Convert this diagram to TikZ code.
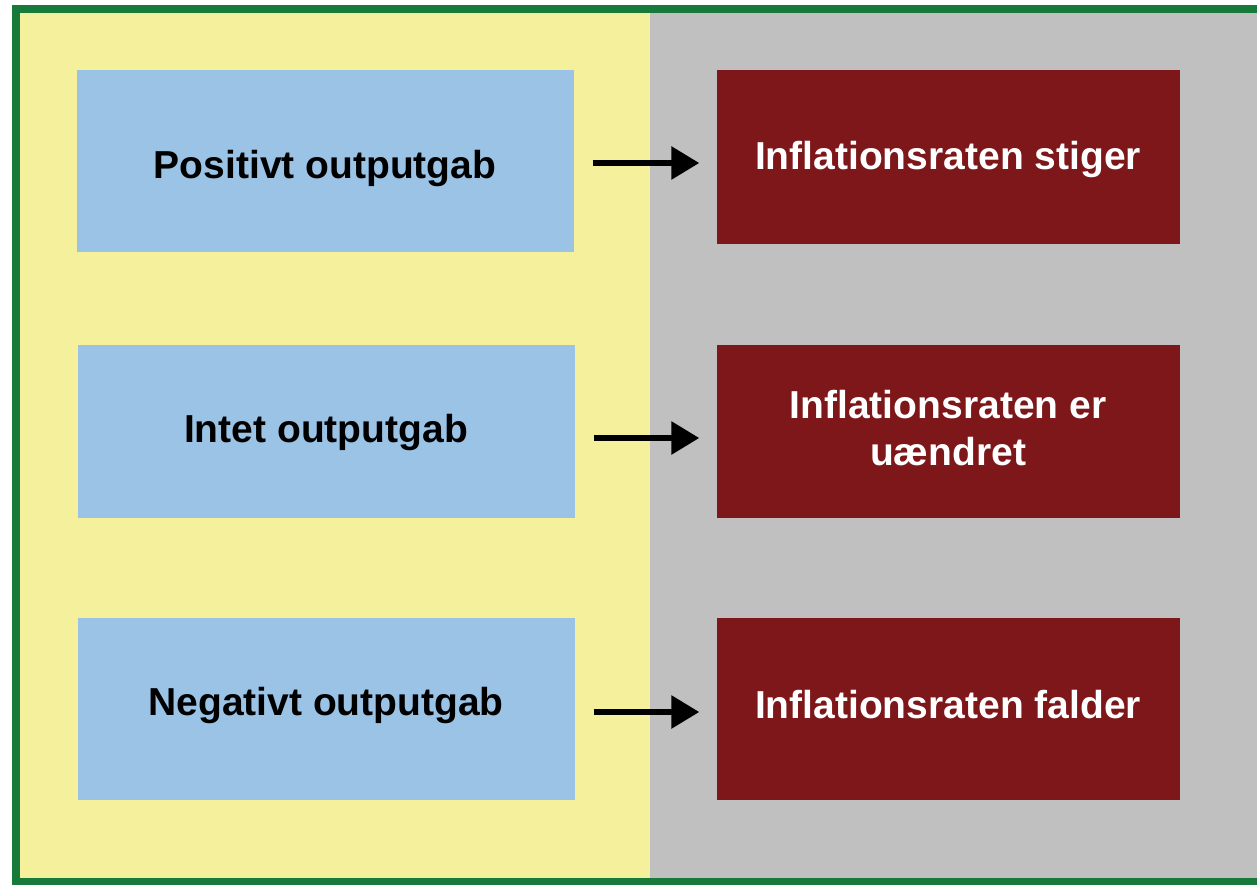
\documentclass[tikz,border=0pt]{standalone}
\usepackage{fontspec}
\setmainfont{Liberation Sans}
\usetikzlibrary{arrows.meta}
\definecolor{frameGreen}{HTML}{17793A}
\definecolor{bgYellow}{HTML}{F5F09C}
\definecolor{bgGray}{HTML}{C0C0C0}
\definecolor{boxBlue}{HTML}{9AC3E6}
\definecolor{boxRed}{HTML}{7D1719}
\tikzset{
  causebox/.style={fill=boxBlue, draw=none, inner sep=0pt, minimum width=497pt},
  effectbox/.style={fill=boxRed, draw=none, inner sep=0pt, minimum width=463pt},
  causetext/.style={inner sep=0pt, align=center, font=\fontsize{39}{47}\selectfont\bfseries, text=black},
  effecttext/.style={inner sep=0pt, align=center, font=\fontsize{39}{47}\selectfont\bfseries, text=white},
  flow/.style={line width=6pt, -{Triangle[length=28pt,width=32pt]}, shorten <=19pt, shorten >=17pt}
}
\begin{document}
\begin{tikzpicture}[x=1pt,y=-1pt]
\useasboundingbox (0,0) rectangle (1257,885);
\begin{scope}
\clip (0,0) rectangle (1257,885);
\fill[white] (0,0) rectangle (1257,885);
\fill[bgYellow] (16,9) rectangle (650,882);
\fill[bgGray] (650,9) rectangle (1290,882);
\draw[frameGreen, line width=8pt] (16,9) rectangle (1300,882);
\end{scope}
\node[causebox, minimum height=182pt] (b1) at (325,161) {};
\node[causebox, minimum height=173pt] (b2) at (326,431) {};
\node[causebox, minimum height=182pt] (b3) at (326,709) {};
\node[effectbox, minimum height=174pt] (r1) at (948,157) {};
\node[effectbox, minimum height=173pt] (r2) at (948,431) {};
\node[effectbox, minimum height=182pt] (r3) at (948,709) {};
\node[causetext] (t1) at ([yshift=-8pt]b1.center) {Positivt outputgab};
\node[causetext] (t2) at ([yshift=-1pt]b2.center) {Intet outputgab};
\node[causetext] (t3) at ([yshift=4pt]b3.center) {Negativt outputgab};
\node[effecttext] (u1) at ([yshift=-3pt]r1.center) {Inflationsraten stiger};
\node[effecttext] (u2) at ([yshift=3pt]r2.center) {Inflationsraten er\\uændret};
\node[effecttext] (u3) at ([yshift=4pt]r3.center) {Inflationsraten falder};
\draw[flow] ([yshift=-2pt]b1.east) -- ([yshift=-2pt]b1.east -| r1.west);
\draw[flow] ([yshift=-7pt]b2.east) -- ([yshift=-7pt]r2.west);
\draw[flow] ([yshift=-3pt]b3.east) -- ([yshift=-3pt]r3.west);
\end{tikzpicture}
\end{document}
